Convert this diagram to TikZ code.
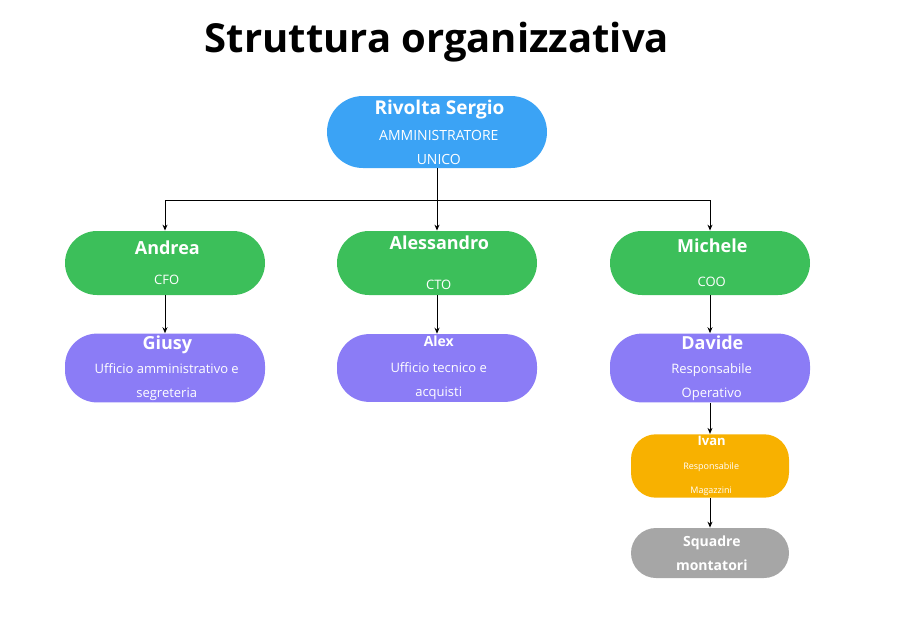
\documentclass[tikz,border=0pt]{standalone}
\usepackage{fontspec}
\setmainfont{Open Sans}
\usetikzlibrary{positioning,arrows.meta}
\definecolor{boss}{HTML}{3BA3F5}
\definecolor{chief}{HTML}{3CBF5A}
\definecolor{staff}{HTML}{8B7CF6}
\definecolor{ware}{HTML}{F8B100}
\definecolor{team}{HTML}{A6A6A6}
\newcommand{\nm}[1]{\bfseries\fontsize{#1}{11}\selectfont}
\newcommand{\rl}[1]{\normalfont\fontsize{#1}{8}\selectfont}
\begin{document}
\begin{tikzpicture}[x=0.5pt,y=-0.5pt,
	pill/.style={rectangle,rounded corners=16pt,minimum width=100pt,minimum height=32pt,text=white,align=center,inner sep=1pt},
	small/.style={pill,rounded corners=12.5pt,minimum width=79pt,minimum height=25pt},
	link/.style={-{Stealth[length=3pt,width=2.5pt]},line width=0.5pt}]
		\useasboundingbox (0,0) rectangle (907,627);
		\node[font=\bfseries\fontsize{20}{24}\selectfont]	(title)	at (437,42)		{Struttura organizzativa};

		\node[pill,fill=boss,minimum width=110pt,minimum height=36pt,rounded corners=18pt]	(sergio)	at (437,132)	{\nm{9.5} Rivolta Sergio\\[1pt]\rl{7} AMMINISTRATORE\\\rl{7} UNICO};
		\node[pill,fill=chief]	(andrea)	at (165,263)	{\nm{9} Andrea\\[3pt]\rl{6.5} CFO};
		\node[pill,fill=chief]	(alessandro)	at (437,263)	{\nm{9} Alessandro\\[8pt]\rl{6.5} CTO};
		\node[pill,fill=chief]	(michele)	at (710,263)	{\nm{9} Michele\\[5pt]\rl{6.5} COO};
		\node[pill,fill=staff]	(giusy)		at (165,368)	{\nm{9} Giusy\\\rl{6.5} Ufficio amministrativo e\\\rl{6.5} segreteria};
		\node[pill,fill=staff]	(alex)		at (437,368)	{\nm{7} Alex\\[1pt]\rl{6.5} Ufficio tecnico e\\\rl{6.5} acquisti};
		\node[pill,fill=staff]	(davide)	at (710,368)	{\nm{9} Davide\\\rl{6.5} Responsabile\\\rl{6.5} Operativo};
		\node[small,fill=ware]	(ivan)		at (710,466)	{\nm{6.5} Ivan\\\rl{4.5} Responsabile\\\rl{4.5} Magazzini};
		\node[small,fill=team]	(squadre)	at (710,553)	{\nm{7} Squadre\\\nm{7} montatori};

		\coordinate (bar) at (437,200);
		\draw[line width=0.5pt] (sergio.south) -- (bar);
		\draw[line width=0.5pt] (andrea.north |- bar) -- (michele.north |- bar);
		\draw[link] (andrea.north |- bar) -- (andrea.north);
		\draw[link] (bar) -- (alessandro.north);
		\draw[link] (michele.north |- bar) -- (michele.north);
		\draw[link] (andrea) -- (giusy);
		\draw[link] (alessandro) -- (alex);
		\draw[link] (michele) -- (davide);
		\draw[link] (davide) -- (ivan);
		\draw[link] (ivan) -- (squadre);
	\end{tikzpicture}
\end{document}
